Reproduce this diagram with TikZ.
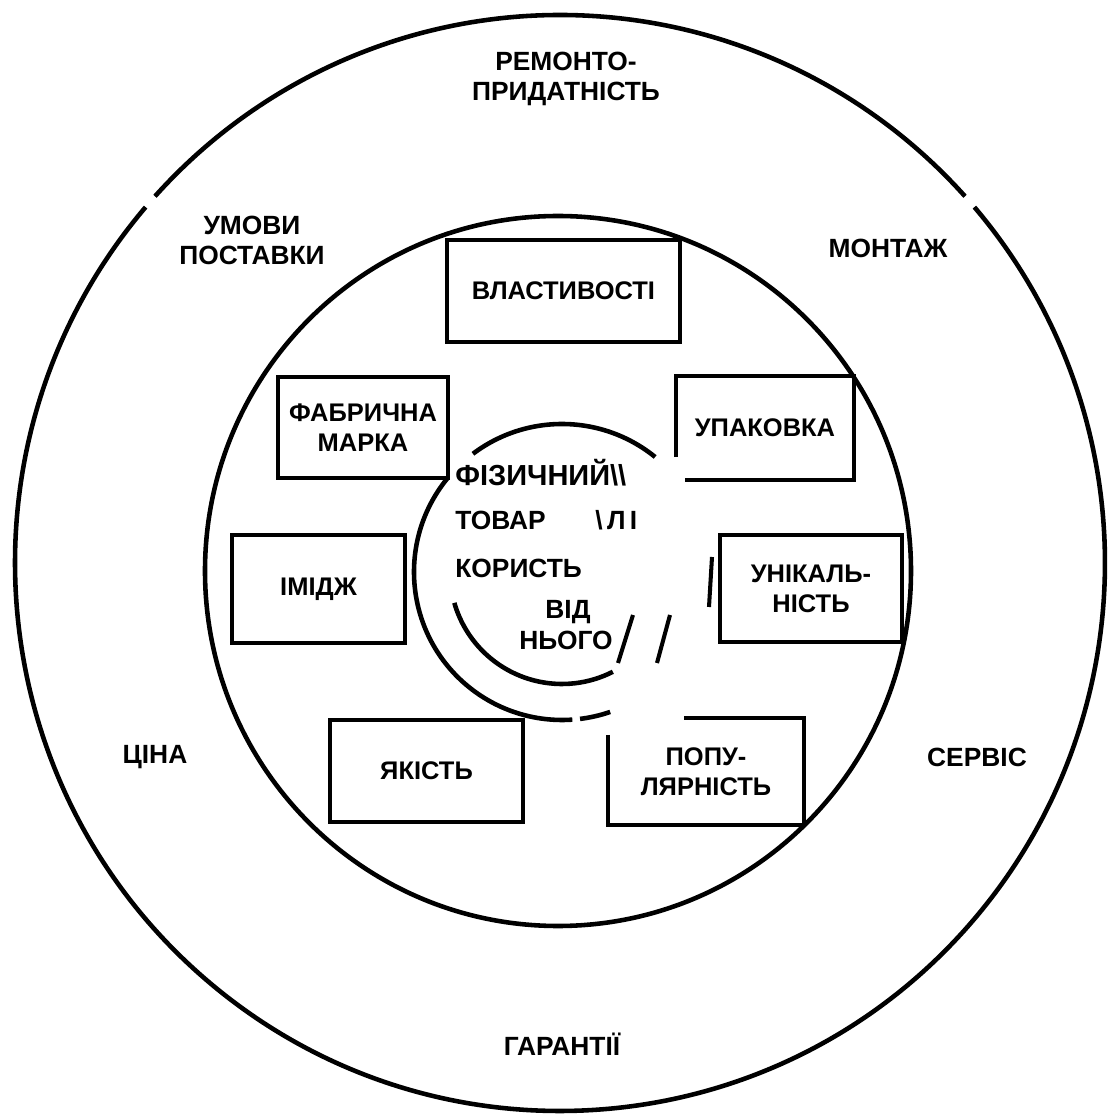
\documentclass[tikz,border=0pt]{standalone}
\usepackage{fontspec}
\setmainfont{Liberation Sans}
\usepackage{tikz}
\usetikzlibrary{positioning,calc}
\tikzset{
  ring/.style={
    line width=2.6pt
  },
  part box/.style={
    draw,
    line width=2.3pt,
    align=center,
    inner sep=2pt,
    font=\fontsize{14.5}{17}\selectfont\bfseries
  },
  ring label/.style={
    align=center,
    font=\fontsize{15}{17}\selectfont\bfseries
  },
  core text/.style={
    anchor=west,
    inner sep=0pt,
    font=\fontsize{15}{17}\selectfont\bfseries
  }
}

\begin{document}
\begin{tikzpicture}[x=0.02cm, y=0.02cm]
  \useasboundingbox[fill=white] (0,0) rectangle (1111,1120);

  % outer ring
  \coordinate (outer) at (560,557);
  \draw[ring] (outer) ++(42:545 and 548) arc[start angle=42, end angle=138, x radius=545, y radius=548];
  \draw[ring] (outer) ++(139.5:545 and 548) arc[start angle=139.5, end angle=400.5, x radius=545, y radius=548];
  \node[ring label] (remont) at (566,1041) {РЕМОНТО-\\ПРИДАТНІСТЬ};
  \node[ring label] (umovy) at (252,880) {УМОВИ\\ПОСТАВКИ};
  \node[ring label] (montazh) at (888,872) {МОНТАЖ};
  \node[ring label] (tsina) at (155,363) {ЦІНА};
  \node[ring label] (servis) at (977,363) {СЕРВІС};
  \node[ring label] (garantii) at (562,76) {ГАРАНТІЇ};

  % middle ring with the boxes
  \draw[ring] (558,549) ellipse[x radius=353, y radius=355];
  \node[part box, minimum width=4.66cm, minimum height=2.04cm] (vlast) at (563.5,829) {ВЛАСТИВОСТІ};
  \node[part box, minimum width=3.4cm, minimum height=2.02cm] (fabr) at (363,692.5) {ФАБРИЧНА\\МАРКА};
  \node[part box, draw=none, minimum width=3.48cm, minimum height=2cm] (upak) at (765,692) {УПАКОВКА};
  \draw[line width=2.3pt] ($(upak.south west)+(0,23)$) |- (upak.north east) |- ($(upak.south west)+(9,0)$);
  \node[part box, minimum width=3.46cm, minimum height=2.16cm] (imidzh) at (318.5,531) {ІМІДЖ};
  \node[part box, minimum width=3.64cm, minimum height=2.14cm] (unik) at (811,531.5) {УНІКАЛЬ-\\НІСТЬ};
  \node[part box, minimum width=3.86cm, minimum height=2.04cm] (yakist) at (426.5,349) {ЯКІСТЬ};
  \node[part box, draw=none, minimum width=3.84cm, minimum height=2.06cm] (popul) at (706,348.5) {ПОПУ-\\ЛЯРНІСТЬ};
  \draw[line width=2.3pt] ($(popul.north west)+(0,-17)$) |- (popul.south east) |- ($(popul.north west)+(76,0)$);

  % core
  \coordinate (core) at (562,548);
  \draw[ring] (core) ++(51:148) arc[start angle=51, end angle=127, radius=148];
  \draw[ring] (core) ++(141:148) arc[start angle=141, end angle=274, radius=148];
  \draw[ring] (core) ++(277:148) arc[start angle=277, end angle=289, radius=148];
  \draw[ring] (core) ++(196:112) arc[start angle=196, end angle=297, radius=112];
  \node[core text, font=\fontsize{16.5}{18}\selectfont\bfseries] (fiz) at (455,647) {ФІЗИЧНИЙ\textbackslash\textbackslash};
  \node[core text] (tovar) at (455,600) {ТОВАР};
  \node[core text] (tovarl) at (595,600) {\textbackslash\,Л\,І};
  \node[core text] (koryst) at (455,552) {КОРИСТЬ};
  \node[core text, anchor=center] (vid) at (568,508) {ВІД};
  \node[core text, anchor=center] (nogo) at (566,480) {НЬОГО};
  \draw[line width=2.3pt] (633,505) -- (618,457);
  \draw[line width=2.3pt] (670,505) -- (657,457);
  \draw[line width=2.3pt] (712,563) -- (709,513);
\end{tikzpicture}
\end{document}
